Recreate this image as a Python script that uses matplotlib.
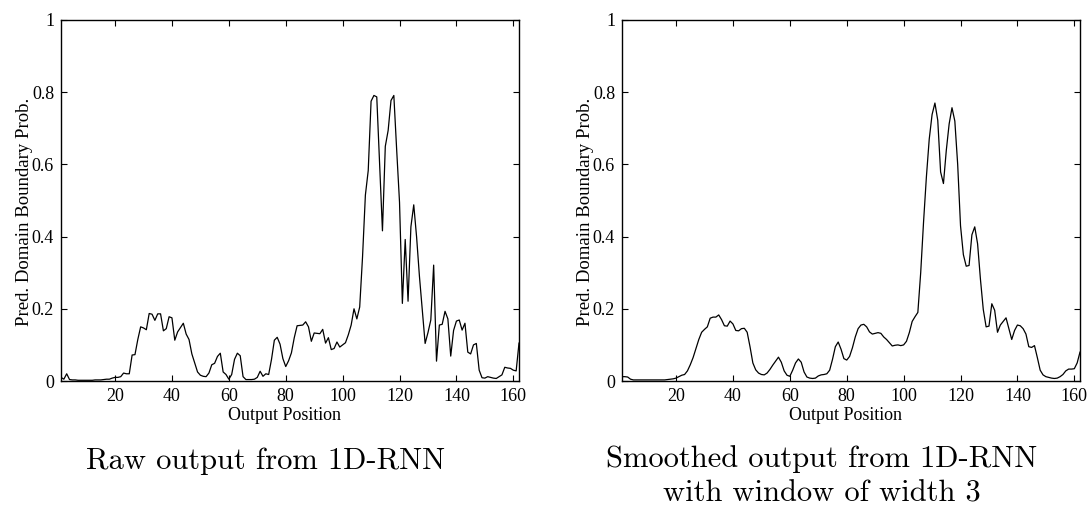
import numpy as np
import matplotlib
matplotlib.use("Agg")
import matplotlib.pyplot as plt

# output positions 1..162
positions = np.arange(1, 163)

raw_prob = [
    0.010, 0.005, 0.020, 0.004, 0.003, 0.003, 0.002, 0.002, 0.002, 0.002,
    0.002, 0.002, 0.003, 0.003, 0.003, 0.004, 0.005, 0.005, 0.008, 0.010,
    0.010, 0.012, 0.022, 0.020, 0.020, 0.072, 0.073, 0.115, 0.150, 0.147,
    0.142, 0.187, 0.185, 0.168, 0.186, 0.186, 0.139, 0.145, 0.178, 0.175,
    0.113, 0.136, 0.148, 0.160, 0.130, 0.115, 0.075, 0.050, 0.025, 0.016,
    0.013, 0.012, 0.022, 0.045, 0.049, 0.068, 0.077, 0.025, 0.018, 0.005,
    0.018, 0.060, 0.077, 0.070, 0.012, 0.004, 0.004, 0.004, 0.005, 0.010,
    0.027, 0.013, 0.020, 0.018, 0.060, 0.113, 0.121, 0.102, 0.062, 0.040,
    0.056, 0.078, 0.120, 0.153, 0.154, 0.155, 0.164, 0.150, 0.110, 0.133,
    0.132, 0.131, 0.143, 0.105, 0.120, 0.087, 0.090, 0.108, 0.094, 0.100,
    0.106, 0.128, 0.155, 0.200, 0.172, 0.205, 0.344, 0.515, 0.583, 0.775,
    0.791, 0.787, 0.602, 0.416, 0.650, 0.694, 0.777, 0.791, 0.640, 0.495,
    0.215, 0.392, 0.221, 0.427, 0.488, 0.399, 0.290, 0.198, 0.104, 0.134,
    0.169, 0.321, 0.055, 0.155, 0.157, 0.193, 0.172, 0.069, 0.140, 0.166,
    0.169, 0.141, 0.160, 0.080, 0.075, 0.100, 0.104, 0.030, 0.009, 0.008,
    0.012, 0.010, 0.008, 0.007, 0.012, 0.017, 0.038, 0.036, 0.035, 0.030,
    0.028, 0.105,
]

smooth_prob = [
    0.012, 0.012, 0.011, 0.005, 0.003, 0.003, 0.003, 0.003, 0.003, 0.003,
    0.003, 0.003, 0.003, 0.003, 0.003, 0.003, 0.004, 0.005, 0.006, 0.008,
    0.012, 0.016, 0.018, 0.028, 0.045, 0.065, 0.090, 0.115, 0.135, 0.143,
    0.150, 0.174, 0.177, 0.177, 0.183, 0.170, 0.153, 0.152, 0.166, 0.158,
    0.140, 0.139, 0.145, 0.146, 0.135, 0.095, 0.050, 0.031, 0.022, 0.018,
    0.017, 0.022, 0.032, 0.044, 0.055, 0.066, 0.052, 0.028, 0.016, 0.013,
    0.030, 0.050, 0.061, 0.052, 0.025, 0.011, 0.008, 0.007, 0.008, 0.014,
    0.017, 0.018, 0.020, 0.030, 0.060, 0.095, 0.108, 0.088, 0.062, 0.058,
    0.068, 0.092, 0.122, 0.145, 0.155, 0.157, 0.150, 0.136, 0.130, 0.132,
    0.134, 0.132, 0.122, 0.115, 0.106, 0.097, 0.099, 0.100, 0.098, 0.100,
    0.110, 0.134, 0.165, 0.178, 0.190, 0.300, 0.440, 0.565, 0.670, 0.738,
    0.770, 0.722, 0.579, 0.547, 0.639, 0.712, 0.757, 0.720, 0.600, 0.430,
    0.350, 0.318, 0.320, 0.405, 0.427, 0.380, 0.282, 0.198, 0.150, 0.152,
    0.214, 0.196, 0.135, 0.155, 0.165, 0.175, 0.145, 0.115, 0.140, 0.155,
    0.153, 0.145, 0.130, 0.095, 0.093, 0.098, 0.065, 0.030, 0.017, 0.012,
    0.010, 0.008, 0.007, 0.008, 0.012, 0.018, 0.028, 0.033, 0.033, 0.034,
    0.050, 0.080,
]

x_ticks = [20, 40, 60, 80, 100, 120, 140, 160]
y_ticks = [0, 0.2, 0.4, 0.6, 0.8, 1]
y_tick_labels = ["0", "0.2", "0.4", "0.6", "0.8", "1"]

caption_left = ["Raw output from 1D-RNN"]
caption_right = ["Smoothed output from 1D-RNN", "with window of width 3"]

serif = "Liberation Serif"
W, H = 1089, 507

fig = plt.figure(figsize=(W / 100, H / 100), dpi=100)
ax_left = fig.add_axes([61 / W, 126 / H, 458 / W, 361 / H])
ax_right = fig.add_axes([622 / W, 126 / H, 458 / W, 361 / H])

for ax, series in [(ax_left, raw_prob), (ax_right, smooth_prob)]:
    ax.plot(positions, series, color="black", linewidth=0.9)
    ax.set_xlim(1, 162)
    ax.set_ylim(0, 1)
    ax.set_xticks(x_ticks)
    ax.set_yticks(y_ticks)
    ax.set_yticklabels(y_tick_labels)
    ax.tick_params(direction="in", top=True, right=True, length=4,
                   width=0.8, labelsize=13, pad=5)
    for lab in ax.get_xticklabels() + ax.get_yticklabels():
        lab.set_fontfamily(serif)
    for sp in ax.spines.values():
        sp.set_linewidth(1.0)
    ax.set_xlabel("Output Position", fontsize=13, family=serif)
    ax.xaxis.set_label_coords(0.487, -0.072)
    ax.xaxis.label.set_va("top")
    ax.set_ylabel("Pred. Domain Boundary Prob.", fontsize=13.5, family=serif)
    ax.yaxis.set_label_coords(-0.062, 0.468)

# captions under each panel (baselines)
for i, line in enumerate(caption_left):
    fig.text(266 / W, 1 - (469 + 34 * i) / H, line, family="cmr10",
             fontsize=22, ha="center", va="baseline")
for i, line in enumerate(caption_right):
    fig.text(822 / W, 1 - (467 + 34 * i) / H, line, family="cmr10",
             fontsize=22, ha="center", va="baseline")

fig.savefig("out.png", dpi=100)
